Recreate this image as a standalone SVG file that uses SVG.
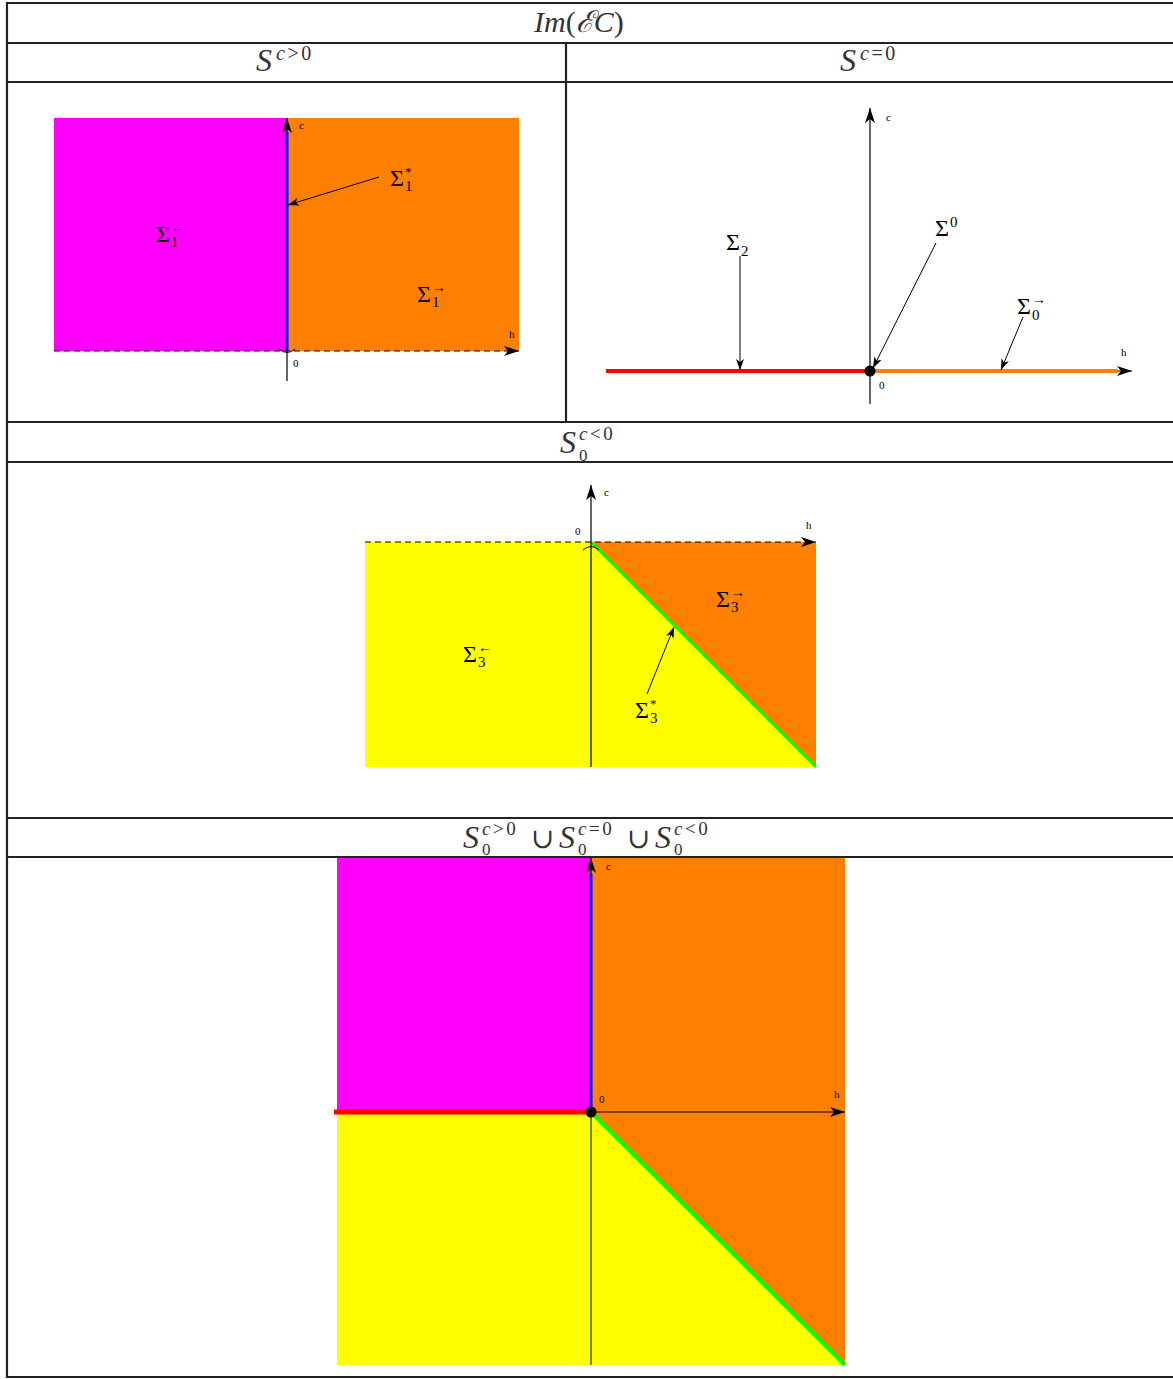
<svg xmlns="http://www.w3.org/2000/svg" width="1173" height="1379" viewBox="0 0 1173 1379">
<style>
.tbl{stroke:#222;stroke-width:2.2;fill:none}
.hd{font-family:"Liberation Serif","DejaVu Serif",serif;fill:#333}
.it{font-style:italic}
.sp{letter-spacing:2.5px}
.lb{font-family:"Liberation Serif","DejaVu Serif",serif;fill:#000}
.sm{font-family:"Liberation Serif","DejaVu Serif",serif;fill:#000;font-size:11px}
.ax{stroke:#000;stroke-width:1.2;fill:none}
.dash{stroke:#000;stroke-width:1.2;stroke-dasharray:6,4;fill:none}
.thin{stroke:#000;stroke-width:1;fill:none}
</style>
<defs>
<marker id="ah" markerWidth="16" markerHeight="10" refX="15" refY="5" orient="auto" markerUnits="userSpaceOnUse">
<path d="M15,5 L0,0 L4,5 L0,10 z" fill="#000"/>
</marker>
<marker id="as" markerWidth="12" markerHeight="8" refX="11" refY="4" orient="auto" markerUnits="userSpaceOnUse">
<path d="M11,4 L0,0 L3,4 L0,8 z" fill="#000"/>
</marker>
</defs>
<rect width="1173" height="1379" fill="#fff"/>

<g id="table">
<line class="tbl" x1="7" y1="3" x2="1173" y2="3"/>
<line class="tbl" x1="7" y1="43" x2="1173" y2="43"/>
<line class="tbl" x1="7" y1="82" x2="1173" y2="82"/>
<line class="tbl" x1="7" y1="422" x2="1173" y2="422"/>
<line class="tbl" x1="7" y1="462" x2="1173" y2="462"/>
<line class="tbl" x1="7" y1="818" x2="1173" y2="818"/>
<line class="tbl" x1="7" y1="857" x2="1173" y2="857"/>
<line class="tbl" x1="7" y1="1377" x2="1173" y2="1377"/>
<line class="tbl" x1="7" y1="2" x2="7" y2="1378"/>
<line class="tbl" x1="566" y1="43" x2="566" y2="422"/>
</g>

<g id="headers">
<text class="hd" x="534" y="32" font-size="30"><tspan class="it">Im</tspan>(<tspan class="it">ℰC</tspan>)</text>
<text class="hd it" x="256" y="71" font-size="32">S</text>
<text class="hd sp" x="276" y="60" font-size="20"><tspan class="it">c</tspan>&gt;0</text>
<text class="hd it" x="840" y="71" font-size="32">S</text>
<text class="hd sp" x="860" y="60" font-size="20"><tspan class="it">c</tspan>=0</text>
<text class="hd it" x="560" y="453" font-size="32">S</text>
<text class="hd sp" x="579" y="440" font-size="19"><tspan class="it">c</tspan>&lt;0</text>
<text class="hd" x="579" y="461" font-size="17">0</text>
<text class="hd it" x="463" y="848" font-size="32">S</text>
<text class="hd sp" x="482" y="835" font-size="19"><tspan class="it">c</tspan>&gt;0</text>
<text class="hd" x="482" y="855" font-size="17">0</text>
<text class="hd" x="531" y="848" font-size="28">∪</text>
<text class="hd it" x="559" y="848" font-size="32">S</text>
<text class="hd sp" x="578" y="835" font-size="19"><tspan class="it">c</tspan>=0</text>
<text class="hd" x="578" y="855" font-size="17">0</text>
<text class="hd" x="627" y="848" font-size="28">∪</text>
<text class="hd it" x="655" y="848" font-size="32">S</text>
<text class="hd sp" x="674" y="835" font-size="19"><tspan class="it">c</tspan>&lt;0</text>
<text class="hd" x="674" y="855" font-size="17">0</text>
</g>

<g id="panel1">
<rect x="54" y="118" width="233" height="233" fill="#ff00ff"/>
<rect x="287" y="118" width="232" height="233" fill="#ff8000"/>
<line class="ax" x1="287" y1="381" x2="287" y2="118" marker-end="url(#ah)"/>
<line x1="287" y1="351" x2="287" y2="132" stroke="#0000ff" stroke-width="3"/>
<line class="dash" x1="54" y1="351" x2="519" y2="351" marker-end="url(#ah)"/>
<path d="M279,349 Q287,356 295,349" class="thin"/>
<text class="sm" x="299" y="129">c</text>
<text class="sm" x="509" y="338">h</text>
<text class="sm" x="293" y="367">0</text>
<line class="thin" x1="379" y1="177" x2="288" y2="205" marker-end="url(#as)"/>
<text class="lb" x="390" y="186" font-size="24">Σ</text>
<text class="lb" x="405" y="176" font-size="13">*</text>
<text class="lb" x="405" y="191" font-size="15">1</text>
<text class="lb" x="156" y="242" font-size="24">Σ</text>
<text class="lb" x="171" y="232" font-size="14">←</text>
<text class="lb" x="171" y="247" font-size="15">1</text>
<text class="lb" x="417" y="302" font-size="24">Σ</text>
<text class="lb" x="432" y="292" font-size="14">→</text>
<text class="lb" x="432" y="307" font-size="15">1</text>
</g>

<g id="panel2">
<line class="ax" x1="870" y1="404" x2="870" y2="108" marker-end="url(#ah)"/>
<line class="ax" x1="870" y1="371" x2="1132" y2="371" marker-end="url(#ah)"/>
<line x1="606" y1="371" x2="870" y2="371" stroke="#ff0000" stroke-width="4"/>
<line x1="870" y1="371" x2="1118" y2="371" stroke="#ff8000" stroke-width="4"/>
<circle cx="870" cy="371" r="5.5" fill="#000"/>
<text class="sm" x="886" y="121">c</text>
<text class="sm" x="1121" y="356">h</text>
<text class="sm" x="879" y="389">0</text>
<line class="thin" x1="740" y1="256" x2="740" y2="370" marker-end="url(#as)"/>
<text class="lb" x="726" y="250" font-size="24">Σ</text>
<text class="lb" x="741" y="256" font-size="15">2</text>
<line class="thin" x1="936" y1="243" x2="873" y2="368" marker-end="url(#as)"/>
<text class="lb" x="935" y="236" font-size="24">Σ</text>
<text class="lb" x="950" y="227" font-size="15">0</text>
<line class="thin" x1="1023" y1="317" x2="1001" y2="370" marker-end="url(#as)"/>
<text class="lb" x="1017" y="314" font-size="24">Σ</text>
<text class="lb" x="1032" y="304" font-size="14">→</text>
<text class="lb" x="1032" y="320" font-size="15">0</text>
</g>

<g id="panel3">
<rect x="365" y="542" width="451" height="225" fill="#ffff00"/>
<polygon points="591,542 816,542 816,767" fill="#ff8000"/>
<line x1="591" y1="542" x2="816" y2="767" stroke="#00ff00" stroke-width="3"/>
<line class="ax" x1="591" y1="767" x2="591" y2="485" marker-end="url(#ah)"/>
<line class="dash" x1="365" y1="542" x2="816" y2="542" marker-end="url(#ah)"/>
<path d="M583,550 Q591,543 599,550" class="thin"/>
<text class="sm" x="604" y="496">c</text>
<text class="sm" x="806" y="529">h</text>
<text class="sm" x="575" y="535">0</text>
<line class="thin" x1="647" y1="694" x2="674" y2="627" marker-end="url(#as)"/>
<text class="lb" x="716" y="607" font-size="24">Σ</text>
<text class="lb" x="731" y="597" font-size="14">→</text>
<text class="lb" x="731" y="612" font-size="15">3</text>
<text class="lb" x="463" y="662" font-size="24">Σ</text>
<text class="lb" x="478" y="652" font-size="14">←</text>
<text class="lb" x="478" y="667" font-size="15">3</text>
<text class="lb" x="635" y="718" font-size="24">Σ</text>
<text class="lb" x="650" y="708" font-size="13">*</text>
<text class="lb" x="650" y="723" font-size="15">3</text>
</g>

<g id="panel4">
<rect x="337" y="858" width="254" height="254" fill="#ff00ff"/>
<rect x="591" y="858" width="254" height="254" fill="#ff8000"/>
<rect x="337" y="1112" width="508" height="253" fill="#ffff00"/>
<polygon points="591,1112 845,1112 845,1365" fill="#ff8000"/>
<line x1="591" y1="1112" x2="845" y2="1365" stroke="#00ff00" stroke-width="4"/>
<line class="thin" x1="591" y1="1365" x2="591" y2="1112"/>
<line class="ax" x1="591" y1="1112" x2="591" y2="858" marker-end="url(#ah)"/>
<line x1="591" y1="1112" x2="591" y2="874" stroke="#0000ff" stroke-width="3"/>
<line class="ax" x1="591" y1="1112" x2="845" y2="1112" marker-end="url(#ah)"/>
<line x1="334" y1="1112" x2="591" y2="1112" stroke="#ff0000" stroke-width="5"/>
<circle cx="591" cy="1112" r="5.5" fill="#000"/>
<text class="sm" x="606" y="870">c</text>
<text class="sm" x="834" y="1098">h</text>
<text class="sm" x="599" y="1103">0</text>
</g>
</svg>
